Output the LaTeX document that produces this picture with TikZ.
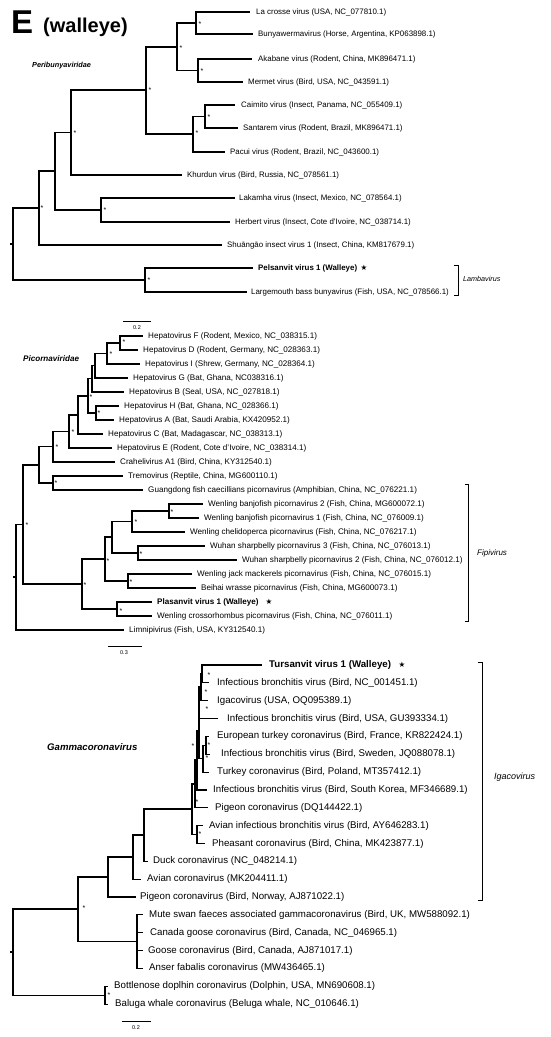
\documentclass[tikz,border=0pt]{standalone}
\usepackage{fontspec}
\setmainfont{Liberation Sans}
\newfontfamily\symf{DejaVu Sans}
\newcommand\leafnode[5]{\coordinate (#1) at (#3,#2); \node[lab] (#1-t) at (#4,#2) {#5};}
\newcommand\innode[3]{\coordinate (#1) at (#2,#3);}
\newcommand\branch[2]{\draw[tree] (#1) |- (#2);}
\newcommand\astnode[3]{\node[ast] (#1) at (#2,#3) {*};}
\begin{document}
\begin{tikzpicture}[x=1pt,y=-1pt,
  tree/.style={line width=1.15pt},
  ast/.style={inner sep=0, font=\fontsize{7}{7}\selectfont},
  brk/.style={line width=0.75pt},
  clade/.style={inner sep=0, anchor=west, font=\itshape},
  sbar/.style={line width=1pt},
  slab/.style={inner sep=0, font=\fontsize{5.5}{6}\selectfont},
  starn/.style={inner sep=0, font=\symf\fontsize{7.5}{7.5}\selectfont}]
\useasboundingbox (0,0) rectangle (550,1037);
% ---------------- title ----------------
\node[anchor=base west, inner sep=0, font=\bfseries\fontsize{33}{33}\selectfont] (E) at (11,33) {E};
\node[anchor=base west, inner sep=0, font=\bfseries\fontsize{20}{20}\selectfont] (wall) at (43,32) {(walleye)};
% ---------------- top tree ----------------
\begin{scope}[lab/.style={inner sep=0, anchor=west, font=\fontsize{7.9}{9}\selectfont}]
\node[anchor=west, inner sep=0, font=\bfseries\itshape\fontsize{7.3}{8}\selectfont] (peri) at (32,66) {Peribunyaviridae};
\leafnode{lc}{12}{250}{256}{La crosse virus (USA, NC\_077810.1)}
\leafnode{bw}{34}{253}{258}{Bunyawermavirus (Horse, Argentina, KP063898.1)}
\leafnode{ak}{59}{252}{258}{Akabane virus (Rodent, China, MK896471.1)}
\leafnode{me}{82}{243}{248}{Mermet virus (Bird, USA, NC\_043591.1)}
\leafnode{ca}{105}{235}{241}{Caimito virus (Insect, Panama, NC\_055409.1)}
\leafnode{sa}{128}{238}{243}{Santarem virus (Rodent, Brazil, MK896471.1)}
\leafnode{pa}{152}{225}{230}{Pacui virus (Rodent, Brazil, NC\_043600.1)}
\leafnode{kh}{175}{182}{187}{Khurdun virus (Bird, Russia, NC\_078561.1)}
\leafnode{la}{198}{235}{239}{Lakamha virus (Insect, Mexico, NC\_078564.1)}
\leafnode{he}{222}{230}{235}{Herbert virus (Insect, Cote d'Ivoire, NC\_038714.1)}
\leafnode{sh}{245}{222}{227}{Shuāngāo insect virus 1 (Insect, China, KM817679.1)}
\leafnode{pe}{268}{253}{258}{\bfseries Pelsanvit virus 1 (Walleye)}
\leafnode{lb}{292}{247}{251}{Largemouth bass bunyavirus (Fish, USA, NC\_078566.1)}
\node[starn] (st1) at (364,268) {★};
\innode{tG}{196}{23}
\innode{tH}{198}{70.5}
\innode{tE}{177}{47}
\innode{tI}{205}{116.5}
\innode{tF}{193}{134}
\innode{tD}{146}{90}
\innode{tC}{71}{132.5}
\innode{tL}{101}{210}
\innode{tB}{55}{171}
\innode{tA}{39}{208}
\innode{tM}{145}{280}
\innode{tR}{13}{244}
\coordinate (tRs) at (10,244);
\branch{tG}{lc}\branch{tG}{bw}
\branch{tH}{ak}\branch{tH}{me}
\branch{tE}{tG}\branch{tE}{tH}
\branch{tI}{ca}\branch{tI}{sa}
\branch{tF}{tI}\branch{tF}{pa}
\branch{tD}{tE}\branch{tD}{tF}
\branch{tC}{tD}\branch{tC}{kh}
\branch{tL}{la}\branch{tL}{he}
\branch{tB}{tC}\branch{tB}{tL}
\branch{tA}{tB}\branch{tA}{sh}
\branch{tM}{pe}\branch{tM}{lb}
\branch{tR}{tA}\branch{tR}{tM}
\draw[tree] (tRs) -- (tR);
\astnode{a1}{200}{24}\astnode{a2}{202}{71}\astnode{a3}{181}{48}
\astnode{a4}{209}{117}\astnode{a5}{197}{133}\astnode{a6}{150}{90}
\astnode{a7}{75}{133}\astnode{a8}{105}{210}\astnode{a9}{42}{208}
\astnode{a10}{149}{280}
\coordinate (lbt) at (454,265); \coordinate (lbb) at (454,295);
\draw[brk] (lbt) -- ++(4,0) |- (lbb);
\node[clade, font=\itshape\fontsize{7.2}{8}\selectfont] (lamb) at (463,279) {Lambavirus};
\coordinate (sb1a) at (123,321); \coordinate (sb1b) at (151,321);
\draw[sbar] (sb1a) -- (sb1b);
\node[slab] (sb1l) at (137,328) {0.2};
\end{scope}
% ---------------- middle tree ----------------
\begin{scope}[lab/.style={inner sep=0, anchor=west, font=\fontsize{8.1}{9}\selectfont}]
\node[anchor=west, inner sep=0, font=\bfseries\itshape\fontsize{8.1}{9}\selectfont] (pico) at (23,359) {Picornaviridae};
\leafnode{hF}{336}{143}{148}{Hepatovirus F (Rodent, Mexico, NC\_038315.1)}
\leafnode{hD}{350}{138}{143}{Hepatovirus D (Rodent, Germany, NC\_028363.1)}
\leafnode{hI}{364}{140}{145}{Hepatovirus I (Shrew, Germany, NC\_028364.1)}
\leafnode{hG}{378}{128}{133}{Hepatovirus G (Bat, Ghana, NC038316.1)}
\leafnode{hB}{392}{124}{129}{Hepatovirus B (Seal, USA, NC\_027818.1)}
\leafnode{hH}{406}{119}{124}{Hepatovirus H (Bat, Ghana, NC\_028366.1)}
\leafnode{hA}{420}{114}{119}{Hepatovirus A (Bat, Saudi Arabia, KX420952.1)}
\leafnode{hC}{434}{103}{108}{Hepatovirus C (Bat, Madagascar, NC\_038313.1)}
\leafnode{hE}{448}{112}{117}{Hepatovirus E (Rodent, Cote d'Ivoire, NC\_038314.1)}
\leafnode{cr}{462}{115}{120}{Crahelivirus A1 (Bird, China, KY312540.1)}
\leafnode{tr}{476}{123}{128}{Tremovirus (Reptile, China, MG600110.1)}
\leafnode{gd}{490}{143}{148}{Guangdong fish caecillians picornavirus (Amphibian, China, NC\_076221.1)}
\leafnode{wbb}{504}{203}{208}{Wenling banjofish picornavirus 2 (Fish, China, MG600072.1)}
\leafnode{wba}{518}{199}{204}{Wenling banjofish picornavirus 1 (Fish, China, NC\_076009.1)}
\leafnode{wc}{532}{185}{190}{Wenling chelidoperca picornavirus (Fish, China, NC\_076217.1)}
\leafnode{wsc}{546}{205}{210}{Wuhan sharpbelly picornavirus 3 (Fish, China, NC\_076013.1)}
\leafnode{wsb}{560}{237}{242}{Wuhan sharpbelly picornavirus 2 (Fish, China, NC\_076012.1)}
\leafnode{wj}{574}{192}{197}{Wenling jack mackerels picornavirus (Fish, China, NC\_076015.1)}
\leafnode{bh}{588}{196}{201}{Beihai wrasse picornavirus (Fish, China, MG600073.1)}
\leafnode{pl}{602}{152}{157}{\bfseries Plasanvit virus 1 (Walleye)}
\leafnode{wx}{616}{152}{157}{Wenling crossorhombus picornavirus (Fish, China, NC\_076011.1)}
\leafnode{li}{630}{124}{129}{Limnipivirus (Fish, USA, KY312540.1)}
\node[starn] (st2) at (269,602) {★};
\innode{m1}{120}{343}
\innode{m2}{107}{353.5}
\innode{m3}{95}{365.75}
\innode{m4}{92}{378.9}
\innode{m5}{96}{413}
\innode{m6}{88}{396}
\innode{m7}{78}{415}
\innode{m8}{69}{431.5}
\innode{m9}{53}{446.75}
\innode{m10}{53}{483}
\innode{m11}{39}{465}
\innode{f1}{169}{511}
\innode{f2}{132}{521.5}
\innode{f3}{138}{553}
\innode{f4}{112}{537}
\innode{f5}{128}{581}
\innode{f6}{105}{559}
\innode{f7}{117}{609}
\innode{f8}{82}{584}
\innode{m12}{23}{524.5}
\innode{mR}{16}{577}
\coordinate (mRs) at (13,577);
\branch{m1}{hF}\branch{m1}{hD}
\branch{m2}{m1}\branch{m2}{hI}
\branch{m3}{m2}\branch{m3}{hG}
\branch{m4}{m3}\branch{m4}{hB}
\branch{m5}{hH}\branch{m5}{hA}
\branch{m6}{m4}\branch{m6}{m5}
\branch{m7}{m6}\branch{m7}{hC}
\branch{m8}{m7}\branch{m8}{hE}
\branch{m9}{m8}\branch{m9}{cr}
\branch{m10}{tr}\branch{m10}{gd}
\branch{m11}{m9}\branch{m11}{m10}
\branch{f1}{wbb}\branch{f1}{wba}
\branch{f2}{f1}\branch{f2}{wc}
\branch{f3}{wsc}\branch{f3}{wsb}
\branch{f4}{f2}\branch{f4}{f3}
\branch{f5}{wj}\branch{f5}{bh}
\branch{f6}{f4}\branch{f6}{f5}
\branch{f7}{pl}\branch{f7}{wx}
\branch{f8}{f6}\branch{f8}{f7}
\branch{m12}{m11}\branch{m12}{f8}
\branch{mR}{m12}\branch{mR}{li}
\draw[tree] (mRs) -- (mR);
\astnode{b1}{124}{342}\astnode{b2}{111}{354}\astnode{b3}{96}{379}
\astnode{b4}{99}{413}\astnode{b5}{91}{397}\astnode{b6}{73}{432}
\astnode{b7}{57}{447}\astnode{b8}{56}{483}\astnode{b9}{172}{512}
\astnode{b10}{136}{522}\astnode{b11}{141}{554}\astnode{b12}{131}{582}
\astnode{b13}{108}{561}\astnode{b14}{121}{611}\astnode{b15}{85}{585}
\astnode{b16}{27}{525}
\coordinate (fbt) at (465,484); \coordinate (fbb) at (465,621);
\draw[brk] (fbt) -- ++(3,0) |- (fbb);
\node[clade, font=\itshape\fontsize{8}{9}\selectfont] (fipi) at (477,553) {Fipivirus};
\coordinate (sb2a) at (108,646); \coordinate (sb2b) at (142,646);
\draw[sbar] (sb2a) -- (sb2b);
\node[slab] (sb2l) at (124,653) {0.3};
\end{scope}
% ---------------- bottom tree ----------------
\begin{scope}[lab/.style={inner sep=0, anchor=west, font=\fontsize{9.7}{11}\selectfont}]
\node[anchor=west, inner sep=0, font=\bfseries\itshape\fontsize{9.6}{11}\selectfont] (gamma) at (47,747) {Gammacoronavirus};
\leafnode{tu}{665}{262}{269}{\bfseries Tursanvit virus 1 (Walleye)}
\leafnode{iba}{682.85}{209}{217}{Infectious bronchitis virus (Bird, NC\_001451.1)}
\leafnode{ig}{700.7}{208}{217}{Igacovirus (USA, OQ095389.1)}
\leafnode{ibb}{718.55}{218}{227}{Infectious bronchitis virus (Bird, USA, GU393334.1)}
\leafnode{et}{736.4}{209}{217}{European turkey coronavirus (Bird, France, KR822424.1)}
\leafnode{ibc}{754.25}{210}{221}{Infectious bronchitis virus (Bird, Sweden, JQ088078.1)}
\leafnode{tc}{772.1}{209}{217}{Turkey coronavirus (Bird, Poland, MT357412.1)}
\leafnode{ibd}{789.95}{207}{213}{Infectious bronchitis virus (Bird, South Korea, MF346689.1)}
\leafnode{pd}{807.8}{208}{215}{Pigeon coronavirus (DQ144422.1)}
\leafnode{ai}{825.65}{203}{209}{Avian infectious bronchitis virus (Bird, AY646283.1)}
\leafnode{ph}{843.5}{205}{212}{Pheasant coronavirus (Bird, China, MK423877.1)}
\leafnode{du}{861.35}{148}{153}{Duck coronavirus (NC\_048214.1)}
\leafnode{av}{879.2}{141}{147}{Avian coronavirus (MK204411.1)}
\leafnode{pj}{897.05}{136}{140}{Pigeon coronavirus (Bird, Norway, AJ871022.1)}
\leafnode{ms}{914.9}{143}{149}{Mute swan faeces associated gammacoronavirus (Bird, UK, MW588092.1)}
\leafnode{cg}{932.75}{143}{150}{Canada goose coronavirus (Bird, Canada, NC\_046965.1)}
\leafnode{go}{950.6}{143}{148}{Goose coronavirus (Bird, Canada, AJ871017.1)}
\leafnode{an}{968.45}{143}{149}{Anser fabalis coronavirus (MW436465.1)}
\leafnode{bo}{986.3}{108}{114}{Bottlenose doplhin coronavirus (Dolphin, USA, MN690608.1)}
\leafnode{ba}{1004.15}{108}{115}{Baluga whale coronavirus (Beluga whale, NC\_010646.1)}
\node[starn] (st3) at (402,665) {★};
\innode{g1}{202}{674}
\innode{g2}{201}{687}
\innode{g3}{199}{703}
\innode{g4}{206}{745.3}
\innode{g5}{203}{758.7}
\innode{g6}{199}{731}
\innode{g7}{197}{760}
\innode{g8}{195}{784}
\innode{g9}{197}{834.6}
\innode{g10}{192}{809}
\innode{g11}{144}{835}
\innode{g12}{133}{857}
\innode{g13}{108}{877}
\innode{g14}{137}{941.7}
\innode{g15}{78}{909}
\innode{g16}{105}{995.2}
\innode{gR}{13}{952}
\coordinate (gRs) at (10,952);
\branch{g1}{tu}\branch{g1}{iba}
\branch{g2}{g1}\branch{g2}{ig}
\branch{g3}{g2}\branch{g3}{ibb}
\branch{g4}{et}\branch{g4}{ibc}
\branch{g5}{g4}\branch{g5}{tc}
\branch{g6}{g3}\branch{g6}{g5}
\branch{g7}{g6}\branch{g7}{ibd}
\branch{g8}{g7}\branch{g8}{pd}
\branch{g9}{ai}\branch{g9}{ph}
\branch{g10}{g8}\branch{g10}{g9}
\branch{g11}{g10}\branch{g11}{du}
\branch{g12}{g11}\branch{g12}{av}
\branch{g13}{g12}\branch{g13}{pj}
\branch{g14}{ms}\branch{g14}{cg}\branch{g14}{go}\branch{g14}{an}
\branch{g15}{g13}\branch{g15}{g14}
\branch{g16}{bo}\branch{g16}{ba}
\branch{gR}{g15}\branch{gR}{g16}
\draw[tree] (gRs) -- (gR);
\astnode{c1}{209}{675}\astnode{c2}{206}{692}\astnode{c3}{207}{709}
\astnode{c4}{209}{745}\astnode{c5}{207}{758}\astnode{c6}{193}{746}
\astnode{c7}{197}{802}\astnode{c8}{200}{834}\astnode{c9}{84}{908}
\astnode{c10}{109}{995}
\coordinate (ibt) at (478,662); \coordinate (ibb2) at (478,900);
\draw[brk] (ibt) -- ++(4,0) |- (ibb2);
\node[clade, font=\itshape\fontsize{9}{10}\selectfont] (igac) at (494,777) {Igacovirus};
\coordinate (sb3a) at (122,1021); \coordinate (sb3b) at (151,1021);
\draw[sbar] (sb3a) -- (sb3b);
\node[slab] (sb3l) at (136,1028) {0.2};
\end{scope}
\end{tikzpicture}
\end{document}
